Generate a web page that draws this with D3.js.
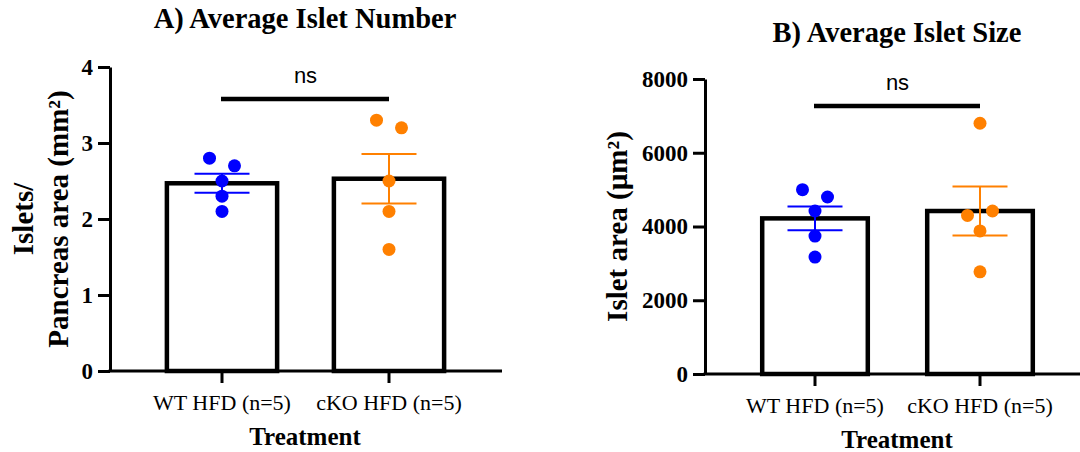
<!DOCTYPE html>
<html>
<head>
<meta charset="utf-8">
<script src="https://cdn.jsdelivr.net/npm/d3@7"></script>
<style>
  body { margin: 0; background: #fff; }
  svg { display: block; }
</style>
</head>
<body>
<div id="chart"></div>
<script>
// groups shared by both panels
const groups = ['WT HFD (n=5)', 'cKO HFD (n=5)'];
const colors = ['#0000ff', '#ff8000'];

// A) islet number per pancreas area
const meanA = [2.47, 2.53];
const semA = [0.125, 0.325];
const wtA = [2.8, 2.7, 2.5, 2.3, 2.1];
const koA = [3.3, 3.2, 2.5, 2.1, 1.6];
const jitterA = [[-1, 1, 0, 0, 0], [-1, 1, 0, 0, 0]];
const ticksA = [0, 1, 2, 3, 4];
const sigA = 3.58;

// B) islet size
const meanB = [4220, 4420];
const semB = [325, 664];
const wtB = [5000, 4800, 4420, 3740, 3170];
const koB = [6800, 4300, 4420, 3880, 2770];
const jitterB = [[-1, 1, 0, 0, 0], [0, -1, 1, 0, 0]];
const ticksB = [0, 2000, 4000, 6000, 8000];
const sigB = 7270;

const serif = "'Liberation Serif', 'Times New Roman', serif";
const sans = "'Liberation Sans', Arial, sans-serif";

const svg = d3.select('#chart').append('svg')
  .attr('width', 1080)
  .attr('height', 452);

function drawPanel(p) {
  const g = svg.append('g');

  const x = d3.scaleBand().domain(groups)
    .range([p.bandLeft, p.bandRight])
    .paddingInner(p.padIn).paddingOuter(p.padIn / 2);
  const y = d3.scaleLinear().domain([0, p.ticks[p.ticks.length - 1]])
    .range([p.bottom, p.top]);
  const cx = d => x(d) + x.bandwidth() / 2;

  // bars
  g.selectAll('.bar').data(groups).enter().append('rect')
    .attr('x', d => x(d))
    .attr('y', (d, i) => y(p.means[i]))
    .attr('width', x.bandwidth())
    .attr('height', (d, i) => y(0) - y(p.means[i]))
    .attr('fill', '#fff')
    .attr('stroke', '#000')
    .attr('stroke-width', 4.5);

  // individual points
  groups.forEach((grp, i) => {
    g.selectAll('.pt' + i).data(p.points[i]).enter().append('circle')
      .attr('cx', (d, j) => cx(grp) + p.jitter[i][j] * 12.5)
      .attr('cy', d => y(d))
      .attr('r', 6.5)
      .attr('fill', colors[i]);

    // SEM error bars
    const eb = g.append('g').attr('stroke', colors[i]).attr('stroke-width', 2);
    eb.append('line')
      .attr('x1', cx(grp)).attr('x2', cx(grp))
      .attr('y1', y(p.means[i] - p.sems[i])).attr('y2', y(p.means[i] + p.sems[i]));
    [p.means[i] - p.sems[i], p.means[i] + p.sems[i]].forEach(v => {
      eb.append('line')
        .attr('x1', cx(grp) - 27.5).attr('x2', cx(grp) + 27.5)
        .attr('y1', y(v)).attr('y2', y(v));
    });
  });

  // y axis
  const ya = g.append('g')
    .attr('transform', `translate(${p.axisX},0)`)
    .call(d3.axisLeft(y).tickValues(p.ticks).tickFormat(d3.format('d'))
      .tickSize(12).tickSizeOuter(0).tickPadding(5));
  ya.selectAll('path, line').attr('stroke', '#000').attr('stroke-width', 3);
  ya.selectAll('text')
    .attr('font-family', serif).attr('font-size', 23).attr('font-weight', 'bold')
    .attr('fill', '#000');

  // x axis
  const xa = g.append('g')
    .attr('transform', `translate(0,${p.bottom})`)
    .call(d3.axisBottom(x).tickSize(12).tickSizeOuter(0).tickPadding(11));
  xa.select('.domain').remove();
  xa.selectAll('line').attr('stroke', '#000').attr('stroke-width', 3);
  xa.selectAll('text')
    .attr('font-family', serif).attr('font-size', 22).attr('fill', '#000');
  g.append('line')
    .attr('x1', p.axisX - 1.5).attr('x2', p.axisEnd)
    .attr('y1', p.bottom).attr('y2', p.bottom)
    .attr('stroke', '#000').attr('stroke-width', 3);

  // significance bar
  g.append('line')
    .attr('x1', cx(groups[0]) - 1).attr('x2', cx(groups[1]))
    .attr('y1', y(p.sig)).attr('y2', y(p.sig))
    .attr('stroke', '#000').attr('stroke-width', 4.5);
  g.append('text')
    .attr('x', (cx(groups[0]) + cx(groups[1])) / 2)
    .attr('y', y(p.sig) - 16)
    .attr('text-anchor', 'middle')
    .attr('font-family', sans).attr('font-size', 22)
    .text('ns');

  // titles
  g.append('text')
    .attr('x', p.titleX).attr('y', p.titleY)
    .attr('text-anchor', 'middle')
    .attr('font-family', serif).attr('font-size', 28.5).attr('font-weight', 'bold')
    .text(p.title);

  g.append('text')
    .attr('x', p.titleX).attr('y', p.bottom + 74)
    .attr('text-anchor', 'middle')
    .attr('font-family', serif).attr('font-size', 25).attr('font-weight', 'bold')
    .text('Treatment');

  const midY = (p.top + p.bottom) / 2;
  p.yLabel.forEach((line, k) => {
    g.append('text')
      .attr('transform', `translate(${p.yLabelX[k]},${midY}) rotate(-90)`)
      .attr('text-anchor', 'middle')
      .attr('font-family', serif).attr('font-size', 29).attr('font-weight', 'bold')
      .text(line);
  });
}

drawPanel({
  title: 'A) Average Islet Number', titleX: 305, titleY: 28,
  yLabel: ['Islets/', 'Pancreas area (mm\u00b2)'], yLabelX: [33, 68],
  axisX: 110, axisEnd: 502, bandLeft: 138.5, bandRight: 472.5, padIn: 0.34,
  top: 67, bottom: 371,
  means: meanA, sems: semA, points: [wtA, koA], jitter: jitterA,
  ticks: ticksA, sig: sigA
});

drawPanel({
  title: 'B) Average Islet Size', titleX: 897, titleY: 42,
  yLabel: ['Islet area (\u00b5m\u00b2)'], yLabelX: [627],
  axisX: 705, axisEnd: 1080, bandLeft: 732.5, bandRight: 1062.5, padIn: 0.36,
  top: 79, bottom: 374,
  means: meanB, sems: semB, points: [wtB, koB], jitter: jitterB,
  ticks: ticksB, sig: sigB
});
</script>
</body>
</html>
